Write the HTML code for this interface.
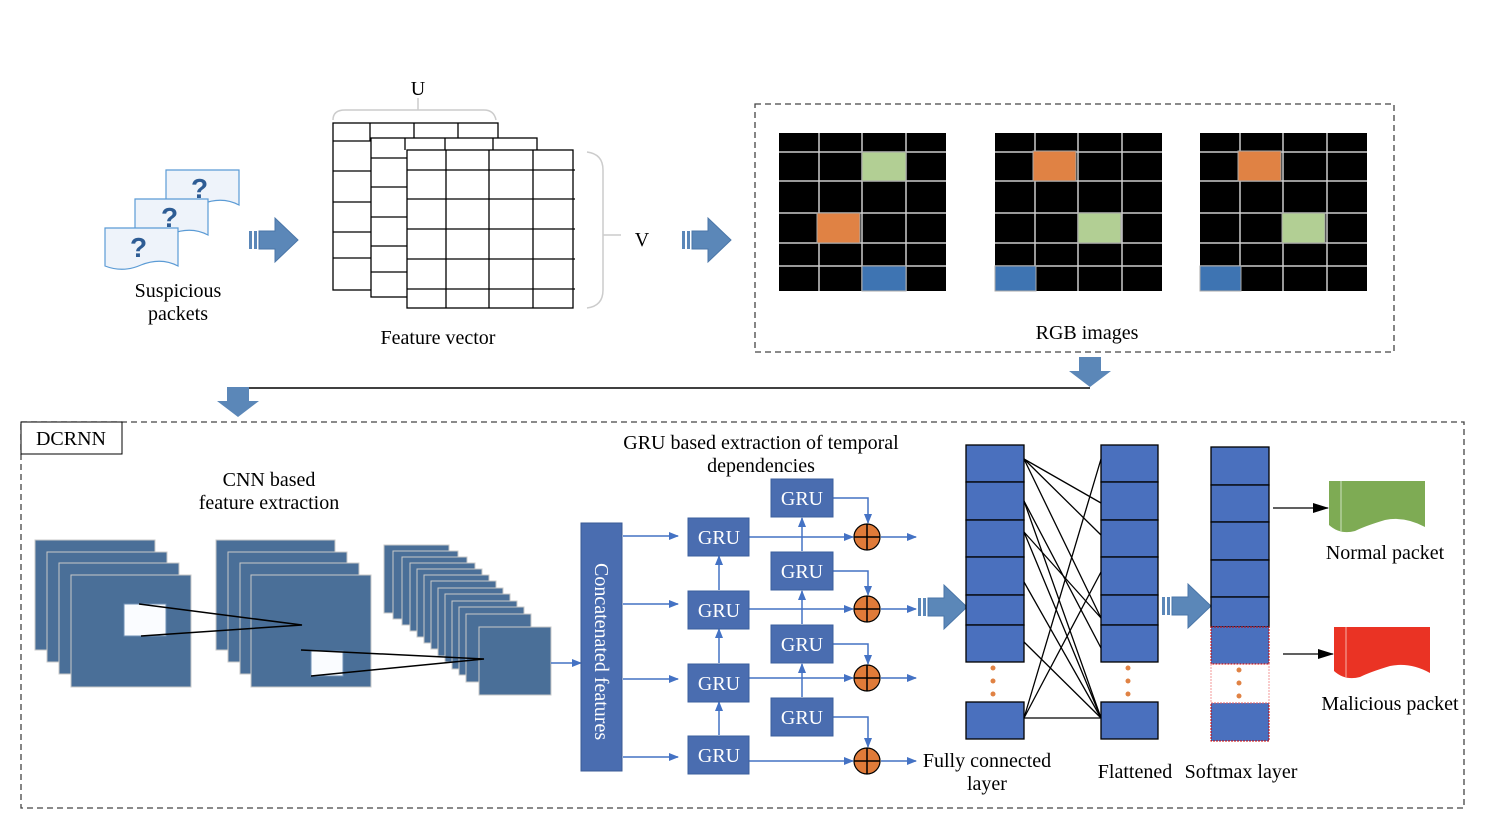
<!DOCTYPE html>
<html><head><meta charset="utf-8"><style>
html,body{margin:0;padding:0;background:#fff}
svg{display:block;font-family:"Liberation Serif",serif}
</style></head><body>
<svg width="1494" height="824" viewBox="0 0 1494 824" xmlns="http://www.w3.org/2000/svg">
<defs>
<marker id="ab" markerWidth="10" markerHeight="10" refX="9" refY="5" orient="auto" markerUnits="userSpaceOnUse"><path d="M0,1 L10,5 L0,9 Z" fill="#4472c4"/></marker>
<marker id="ak" markerWidth="16" markerHeight="12" refX="15" refY="6" orient="auto" markerUnits="userSpaceOnUse"><path d="M0,1 L16,6 L0,11 Z" fill="#000"/></marker>
<g id="barr"><rect x="0" y="13" width="3" height="18" fill="#5b87b8"/><rect x="5" y="13" width="3" height="18" fill="#5b87b8"/><path d="M10,13 H26 V0 L49,22 L26,44 V31 H10 Z" fill="#5b87b8" stroke="#4a76a8"/></g>
<g id="darr"><rect x="0" y="0" width="22" height="18" fill="#5b87b8"/><path d="M-10,14 H32 L11,30 Z" fill="#5b87b8"/></g>
</defs>

<!-- Suspicious packets -->
<g stroke="#5b9bd5" stroke-width="1.2" fill="#eef3fa">
<path d="M166,170 H239 V205 Q222,196 202,204 Q184,212 166,205 Z"/>
<path d="M135,199 H208 V235 Q191,226 171,234 Q153,242 135,235 Z"/>
<path d="M105,228 H178 V266 Q161,257 141,265 Q123,273 105,266 Z"/>
</g>
<g fill="#2e5c94" font-family="Liberation Sans,sans-serif" font-weight="bold" font-size="28">
<text x="191" y="198">?</text><text x="161" y="227">?</text><text x="130" y="257">?</text>
</g>
<text x="178" y="297" font-size="20" text-anchor="middle">Suspicious</text>
<text x="178" y="320" font-size="20" text-anchor="middle">packets</text>
<use href="#barr" x="249" y="218"/>

<!-- Feature grids -->
<path d="M333,120 Q333,110 345,110 H484 Q494,110 496,120" fill="none" stroke="#ccc" stroke-width="1.5"/>
<line x1="418" y1="98" x2="418" y2="110" stroke="#ccc" stroke-width="1.5"/>
<text x="418" y="95" font-size="20" text-anchor="middle">U</text>
<g fill="#fff" stroke="#000" stroke-width="1.3">
<rect x="333" y="123" width="165" height="167"/>
<path d="M333,141H371 M333,171H371 M333,202H371 M333,232H371 M333,258H371 M370,123V141 M414,123V138 M458,123V138"/>
<rect x="371" y="138" width="166" height="159"/>
<path d="M371,158H407 M371,187H407 M371,217H407 M371,246H407 M371,272H407 M405,138V150 M445,138V150 M493,138V150"/>
<rect x="407" y="150" width="166" height="158"/>
<path d="M407,170H575 M407,199H575 M407,229H575 M407,259H575 M407,289H575 M446,150V308 M489,150V308 M533,150V308"/>
</g>
<path d="M587,152 Q603,154 603,170 V290 Q603,306 587,308" fill="none" stroke="#ccc" stroke-width="1.5"/>
<line x1="603" y1="235" x2="621" y2="235" stroke="#ccc" stroke-width="1.5"/>
<text x="642" y="246" font-size="20" text-anchor="middle">V</text>
<text x="438" y="344" font-size="20" text-anchor="middle">Feature vector</text>
<use href="#barr" x="682" y="218"/>

<!-- RGB images -->
<rect x="755" y="104" width="639" height="248" fill="none" stroke="#444" stroke-width="1.3" stroke-dasharray="6,4"/>
<g id="g1">
<rect x="779" y="133" width="167" height="158" fill="#000"/>
<g stroke="#ccc" stroke-width="1.5"><path d="M779,152H946 M779,181H946 M779,213H946 M779,243H946 M779,266H946 M819,133V291 M862,133V291 M906,133V291"/></g>
</g>
<rect x="862" y="152" width="44" height="29" fill="#b2cf94" stroke="#aaa"/>
<rect x="817" y="213" width="43" height="30" fill="#e08244" stroke="#aaa"/>
<rect x="862" y="266" width="44" height="25" fill="#3e74b2" stroke="#aaa"/>
<use href="#g1" x="216"/>
<rect x="1033" y="151" width="43" height="30" fill="#e08244" stroke="#aaa"/>
<rect x="1078" y="213" width="43" height="30" fill="#b2cf94" stroke="#aaa"/>
<rect x="995" y="266" width="41" height="25" fill="#3e74b2" stroke="#aaa"/>
<use href="#g1" x="421"/>
<rect x="1238" y="151" width="43" height="30" fill="#e08244" stroke="#aaa"/>
<rect x="1282" y="213" width="43" height="30" fill="#b2cf94" stroke="#aaa"/>
<rect x="1200" y="266" width="41" height="25" fill="#3e74b2" stroke="#aaa"/>
<text x="1087" y="339" font-size="20" text-anchor="middle">RGB images</text>

<!-- connector -->
<line x1="238" y1="388" x2="1090" y2="388" stroke="#000" stroke-width="1.5"/>
<use href="#darr" x="1079" y="357"/>
<use href="#darr" x="227" y="387"/>

<!-- DCRNN box -->
<rect x="21" y="422" width="1443" height="386" fill="none" stroke="#444" stroke-width="1.3" stroke-dasharray="6,4"/>
<rect x="21" y="422" width="101" height="32" fill="#fff" stroke="#000" stroke-width="1"/>
<text x="71" y="445" font-size="20" text-anchor="middle">DCRNN</text>
<text x="269" y="486" font-size="20" text-anchor="middle">CNN based</text>
<text x="269" y="509" font-size="20" text-anchor="middle">feature extraction</text>

<g fill="#4a6f98" stroke="#c8c8c8" stroke-width="1">
<rect x="35" y="540" width="120" height="110"/><rect x="47" y="552" width="120" height="110"/><rect x="59" y="563" width="120" height="111"/><rect x="71" y="575" width="120" height="112"/>
<rect x="216" y="540" width="119" height="110"/><rect x="228" y="552" width="119" height="110"/><rect x="240" y="563" width="119" height="111"/><rect x="251" y="575" width="120" height="112"/>
<rect x="384" y="545" width="65" height="68"/><rect x="393" y="551" width="65" height="68"/><rect x="402" y="557" width="65" height="68"/><rect x="410" y="563" width="65" height="68"/><rect x="417" y="569" width="65" height="68"/><rect x="424" y="575" width="65" height="68"/><rect x="431" y="581" width="65" height="68"/><rect x="438" y="588" width="65" height="68"/><rect x="445" y="594" width="65" height="68"/><rect x="452" y="601" width="65" height="68"/><rect x="459" y="607" width="65" height="68"/><rect x="466" y="614" width="65" height="68"/>
<rect x="479" y="627" width="72" height="68"/>
</g>
<rect x="124" y="604" width="42" height="32" fill="#fafcff" stroke="#6f8fb5"/>
<rect x="311" y="651" width="32" height="25" fill="#fafcff" stroke="#6f8fb5"/>
<g stroke="#000" stroke-width="1.5" fill="none">
<path d="M139,604 L302,625 L141,636"/><path d="M301,650 L484,659 L311,676"/>
</g>
<line x1="551" y1="663" x2="581" y2="663" stroke="#4472c4" stroke-width="1.5" marker-end="url(#ab)"/>

<!-- concatenated -->
<rect x="581" y="523" width="41" height="248" fill="#4a6db0" stroke="#3a5a95"/>
<text x="0" y="0" transform="translate(595,563) rotate(90)" font-size="20" fill="#fff">Concatenated features</text>

<text x="761" y="449" font-size="20" text-anchor="middle">GRU based extraction of temporal</text>
<text x="761" y="472" font-size="20" text-anchor="middle">dependencies</text>

<g stroke="#4472c4" stroke-width="1.5" fill="none" marker-end="url(#ab)">
<line x1="623" y1="536" x2="678" y2="536"/><line x1="623" y1="604" x2="678" y2="604"/><line x1="623" y1="679" x2="678" y2="679"/><line x1="623" y1="757" x2="678" y2="757"/>
<line x1="719" y1="735" x2="719" y2="702"/><line x1="719" y1="663" x2="719" y2="629"/><line x1="719" y1="590" x2="719" y2="556"/>
<line x1="802" y1="697" x2="802" y2="664"/><line x1="802" y1="624" x2="802" y2="591"/><line x1="802" y1="551" x2="802" y2="518"/>
<line x1="749" y1="537" x2="853" y2="537"/><line x1="749" y1="609" x2="853" y2="609"/><line x1="749" y1="678" x2="853" y2="678"/><line x1="749" y1="761" x2="853" y2="761"/>
<path d="M833,498 H868 V523"/><path d="M833,571 H868 V595"/><path d="M833,644 H868 V664"/><path d="M833,717 H868 V747"/>
<line x1="881" y1="537" x2="916" y2="537"/><line x1="881" y1="609" x2="916" y2="609"/><line x1="881" y1="678" x2="916" y2="678"/><line x1="881" y1="761" x2="916" y2="761"/>
</g>
<g fill="#4a6db0" stroke="#3b5f9e">
<rect x="688" y="518" width="61" height="38"/><rect x="688" y="591" width="61" height="38"/><rect x="688" y="664" width="61" height="38"/><rect x="688" y="736" width="61" height="38"/>
<rect x="771" y="479" width="62" height="38"/><rect x="771" y="552" width="62" height="38"/><rect x="771" y="625" width="62" height="38"/><rect x="771" y="698" width="62" height="38"/>
</g>
<g fill="#fff" font-size="20" text-anchor="middle">
<text x="719" y="544">GRU</text><text x="719" y="617">GRU</text><text x="719" y="690">GRU</text><text x="719" y="762">GRU</text>
<text x="802" y="505">GRU</text><text x="802" y="578">GRU</text><text x="802" y="651">GRU</text><text x="802" y="724">GRU</text>
</g>
<g fill="#e07b39" stroke="#000" stroke-width="1.2">
<circle cx="867" cy="537" r="13"/><circle cx="867" cy="609" r="13"/><circle cx="867" cy="678" r="13"/><circle cx="867" cy="761" r="13"/>
</g>
<g stroke="#000" stroke-width="1.5">
<path d="M854,537H880 M867,524V550 M854,609H880 M867,596V622 M854,678H880 M867,665V691 M854,761H880 M867,748V774"/>
</g>
<text x="987" y="767" font-size="20" text-anchor="middle">Fully connected</text>
<text x="987" y="790" font-size="20" text-anchor="middle">layer</text>

<use href="#barr" x="918" y="585"/>
<use href="#barr" x="1162" y="584"/>

<!-- FC layers -->
<g fill="#4a70be" stroke="#000" stroke-width="1.3">
<rect x="966" y="445" width="58" height="37"/><rect x="966" y="482" width="58" height="38"/><rect x="966" y="520" width="58" height="37"/><rect x="966" y="557" width="58" height="38"/><rect x="966" y="595" width="58" height="30"/><rect x="966" y="625" width="58" height="37"/><rect x="966" y="702" width="58" height="37"/>
<rect x="1101" y="445" width="57" height="37"/><rect x="1101" y="482" width="57" height="38"/><rect x="1101" y="520" width="57" height="37"/><rect x="1101" y="557" width="57" height="38"/><rect x="1101" y="595" width="57" height="30"/><rect x="1101" y="625" width="57" height="37"/><rect x="1101" y="702" width="57" height="37"/>
<rect x="1211" y="447" width="58" height="38"/><rect x="1211" y="485" width="58" height="37"/><rect x="1211" y="522" width="58" height="38"/><rect x="1211" y="560" width="58" height="37"/><rect x="1211" y="597" width="58" height="30"/>
</g>
<g fill="#4a70be" stroke="#c00" stroke-width="1" stroke-dasharray="2,1">
<rect x="1211" y="627" width="58" height="37"/><rect x="1211" y="703" width="58" height="38"/>
</g>
<rect x="1211" y="664" width="58" height="39" fill="none" stroke="#f08080" stroke-width="0.8" stroke-dasharray="2,1"/>
<g fill="#e08244">
<circle cx="993" cy="668" r="2.5"/><circle cx="993" cy="681" r="2.5"/><circle cx="993" cy="694" r="2.5"/>
<circle cx="1128" cy="668" r="2.5"/><circle cx="1128" cy="681" r="2.5"/><circle cx="1128" cy="694" r="2.5"/>
<circle cx="1239" cy="670" r="2.5"/><circle cx="1239" cy="683" r="2.5"/><circle cx="1239" cy="696" r="2.5"/>
</g>
<g stroke="#000" stroke-width="1.3">
<line x1="1024" y1="459" x2="1101" y2="503"/><line x1="1024" y1="459" x2="1101" y2="535"/><line x1="1024" y1="459" x2="1101" y2="618"/>
<line x1="1024" y1="501" x2="1101" y2="648"/><line x1="1024" y1="532" x2="1101" y2="618"/><line x1="1024" y1="582" x2="1101" y2="718"/>
<line x1="1024" y1="642" x2="1101" y2="718"/><line x1="1024" y1="501" x2="1101" y2="718"/><line x1="1024" y1="532" x2="1101" y2="718"/>
<line x1="1024" y1="718" x2="1101" y2="459"/><line x1="1024" y1="718" x2="1101" y2="572"/><line x1="1024" y1="718" x2="1101" y2="718"/>
</g>
<text x="1135" y="778" font-size="20" text-anchor="middle">Flattened</text>
<text x="1241" y="778" font-size="20" text-anchor="middle">Softmax layer</text>

<!-- outputs -->
<line x1="1273" y1="508" x2="1328" y2="508" stroke="#000" stroke-width="1.3" marker-end="url(#ak)"/>
<line x1="1283" y1="654" x2="1333" y2="654" stroke="#000" stroke-width="1.3" marker-end="url(#ak)"/>
<path d="M1329,481 H1425 V527 Q1405,516 1385,520 Q1365,526 1355,531 Q1340,535 1329,525 Z" fill="#7eab54"/>
<line x1="1341" y1="481" x2="1341" y2="532" stroke="#cfe0bf" stroke-width="1"/>
<path d="M1334,627 H1430 V673 Q1410,662 1390,666 Q1370,672 1360,677 Q1345,681 1334,671 Z" fill="#ea3324"/>
<line x1="1346" y1="627" x2="1346" y2="678" stroke="#f6b0a8" stroke-width="1"/>
<text x="1385" y="559" font-size="20" text-anchor="middle">Normal packet</text>
<text x="1390" y="710" font-size="20" text-anchor="middle">Malicious packet</text>
</svg>
</body></html>
